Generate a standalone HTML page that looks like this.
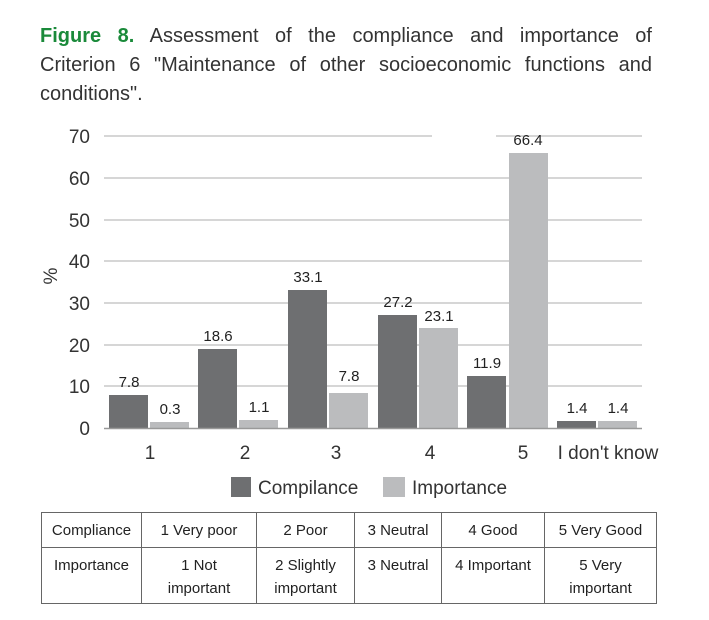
<!DOCTYPE html>
<html><head><meta charset="utf-8"><style>
body{margin:0;background:#fff;width:709px;height:620px;overflow:hidden;font-family:"Liberation Sans",sans-serif}
.title{position:absolute;left:40px;top:22px;width:612px;font-size:20px;line-height:29px;color:#333}
.title div{white-space:nowrap}
.j{text-align:justify;text-align-last:justify}
.title b{color:#1a8a3a}
table{position:absolute;left:41px;top:512px;border-collapse:collapse;font-size:15px;color:#222}
td{border:1px solid #666;text-align:center;vertical-align:top;padding:6px 2px 0;line-height:23px}
</style></head><body>
<div class="title"><div class="j"><b>Figure 8.</b> Assessment of the compliance and importance of</div><div class="j">Criterion 6 "Maintenance of other socioeconomic functions and</div><div>conditions".</div></div>
<svg width="709" height="620" style="position:absolute;left:0;top:0" font-family="Liberation Sans, sans-serif">
<g stroke="#c8c8c8" stroke-width="1.5">
<line x1="104" x2="642" y1="136" y2="136"/><line x1="104" x2="642" y1="178" y2="178"/>
<line x1="104" x2="642" y1="220" y2="220"/><line x1="104" x2="642" y1="261" y2="261"/>
<line x1="104" x2="642" y1="303" y2="303"/><line x1="104" x2="642" y1="345" y2="345"/>
<line x1="104" x2="642" y1="386" y2="386"/>
</g>
<g font-size="19" fill="#333" text-anchor="end">
<text x="90" y="143">70</text><text x="90" y="185">60</text><text x="90" y="227">50</text>
<text x="90" y="268">40</text><text x="90" y="310">30</text><text x="90" y="352">20</text>
<text x="90" y="393">10</text><text x="90" y="435">0</text>
</g>
<text x="0" y="0" font-size="19" fill="#333" transform="translate(57,276) rotate(-90)" text-anchor="middle">%</text>
<g fill="#6e6f71">
<rect x="109" y="395" width="39" height="33"/><rect x="198" y="349" width="39" height="79"/>
<rect x="288" y="290" width="39" height="138"/><rect x="378" y="315" width="39" height="113"/>
<rect x="467" y="376" width="39" height="52"/><rect x="557" y="421" width="39" height="7"/>
</g>
<g fill="#bbbcbe">
<rect x="150" y="422" width="39" height="6"/><rect x="239" y="420" width="39" height="8"/>
<rect x="329" y="393" width="39" height="35"/><rect x="419" y="328" width="39" height="100"/>
<rect x="509" y="153" width="39" height="275"/><rect x="598" y="421" width="39" height="7"/>
</g>
<rect x="432" y="128" width="64" height="16" fill="#fff"/>
<line x1="104" x2="642" y1="428.5" y2="428.5" stroke="#999" stroke-width="1.5"/>
<g font-size="15" fill="#222" text-anchor="middle">
<text x="129" y="387">7.8</text><text x="170" y="414">0.3</text>
<text x="218" y="341">18.6</text><text x="259" y="412">1.1</text>
<text x="308" y="282">33.1</text><text x="349" y="381">7.8</text>
<text x="398" y="307">27.2</text><text x="439" y="321">23.1</text>
<text x="487" y="368">11.9</text><text x="528" y="145">66.4</text>
<text x="577" y="413">1.4</text><text x="618" y="413">1.4</text>
</g>
<g font-size="19" fill="#333" text-anchor="middle">
<text x="150" y="459">1</text><text x="245" y="459">2</text><text x="336" y="459">3</text>
<text x="430" y="459">4</text><text x="523" y="459">5</text><text x="608" y="459">I don't know</text>
</g>
<rect x="231" y="477" width="20" height="20" fill="#6e6f71"/>
<text x="258" y="494" font-size="19" fill="#333">Compilance</text>
<rect x="383" y="477" width="22" height="20" fill="#bbbcbe"/>
<text x="412" y="494" font-size="19" fill="#333">Importance</text>
</svg>
<table>
<tr style="height:35px"><td style="width:95px">Compliance</td><td style="width:110px">1 Very poor</td><td style="width:93px">2 Poor</td><td style="width:82px">3 Neutral</td><td style="width:98px">4 Good</td><td style="width:107px">5 Very Good</td></tr>
<tr style="height:56px"><td>Importance</td><td>1 Not<br>important</td><td>2 Slightly<br>important</td><td>3 Neutral</td><td>4 Important</td><td>5 Very<br>important</td></tr>
</table>
</body></html>
